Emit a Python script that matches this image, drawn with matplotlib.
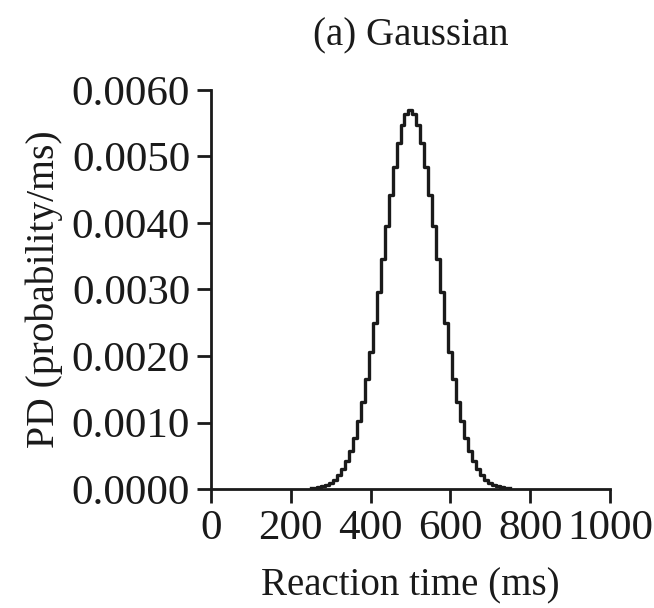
import numpy as np
import matplotlib.pyplot as plt

# bin centres (ms) and probability density
rt = [250, 260, 270, 280, 290, 300, 310, 320, 330, 340, 350, 360, 370, 380,
      390, 400, 410, 420, 430, 440, 450, 460, 470, 480, 490, 500, 510, 520,
      530, 540, 550, 560, 570, 580, 590, 600, 610, 620, 630, 640, 650, 660,
      670, 680, 690, 700, 710, 720, 730, 740, 750]
pd_left = [0.0000097, 0.000016, 0.000026, 0.000041, 0.000063, 0.000096,
           0.000143, 0.000209, 0.000298, 0.000418, 0.000574, 0.000771,
           0.001016, 0.001312, 0.001658, 0.002054, 0.002494, 0.002967,
           0.003457, 0.003948, 0.004416, 0.004841, 0.005200, 0.005472,
           0.005642, 0.005700]
pd_vals = pd_left + pd_left[-2::-1]

plt.rcParams['font.family'] = ['Liberation Serif', 'DejaVu Serif']

fig = plt.figure(figsize=(6.54, 6.08), dpi=100)
ax = fig.add_axes([0.3226, 0.1957, 0.6101, 0.6563])

ax.step(rt, pd_vals, where='mid', color='#1a1a1a', lw=2.4)

ax.set_xlim(0, 1000)
ax.set_ylim(0, 0.006)
ax.set_xticks(np.arange(0, 1001, 200))
ax.set_yticks(np.arange(0, 0.00601, 0.001))
ax.set_yticklabels(['%.4f' % v for v in np.arange(0, 0.00601, 0.001)])

for s in ['top', 'right']:
    ax.spines[s].set_visible(False)
for s in ['left', 'bottom']:
    ax.spines[s].set_linewidth(2)
    ax.spines[s].set_color('#1a1a1a')
ax.tick_params(direction='out', length=10, width=2, labelsize=31,
               color='#1a1a1a', labelcolor='#1a1a1a', pad=5)

ax.set_title('(a) Gaussian', fontsize=28, pad=32, color='#1a1a1a')
ax.set_xlabel('Reaction time (ms)', fontsize=28, labelpad=14, color='#1a1a1a')
ax.set_ylabel('PD (probability/ms)', fontsize=28.5, labelpad=6, color='#1a1a1a')

fig.savefig('out.png', dpi=100)
